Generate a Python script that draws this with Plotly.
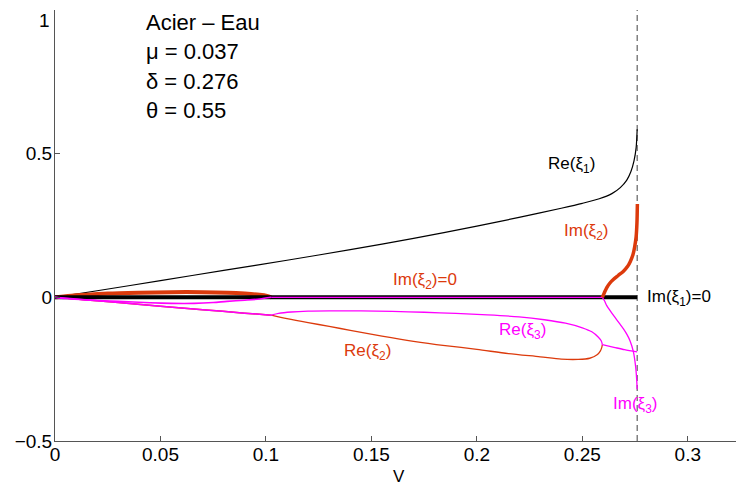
import plotly.graph_objects as go

# ---------------- data ----------------
delta = 0.276

# Re(xi1) (black thin)
re1_v = [0, 0.02, 0.05, 0.08, 0.11, 0.14, 0.17, 0.2, 0.22, 0.24, 0.25, 0.258, 0.264, 0.268, 0.271, 0.273, 0.2745, 0.2755, 0.276]
re1 = [0, 0.023, 0.058, 0.094, 0.129, 0.166, 0.205, 0.248, 0.278, 0.31, 0.327, 0.343, 0.361, 0.382, 0.407, 0.437, 0.475, 0.52, 0.585]

# Im(xi1) = 0 (black thick)
im1_v = [0, 0.276]
im1 = [0, 0]

# Im(xi2) first bump (red thick)
im2a_v = [0, 0.005, 0.013, 0.025, 0.04, 0.055, 0.07, 0.082, 0.09, 0.097, 0.1005, 0.1025]
im2a = [0, 0.004, 0.008, 0.013, 0.016, 0.018, 0.018, 0.016, 0.013, 0.009, 0.005, 0]
# Im(xi2) second branch (red thick)
im2b_v = [0.2595, 0.2605, 0.2616, 0.263, 0.2647, 0.267, 0.2695, 0.2715, 0.2727, 0.274, 0.2748, 0.2755, 0.2759, 0.2761]
im2b = [0, 0.017, 0.034, 0.049, 0.062, 0.076, 0.091, 0.108, 0.124, 0.148, 0.175, 0.21, 0.26, 0.325]

# Im(xi3) (magenta)
im3a_v = [0, 0.005, 0.015, 0.03, 0.045, 0.055, 0.066, 0.075, 0.0815, 0.09, 0.097, 0.1025]
im3a = [0, -0.004, -0.009, -0.014, -0.019, -0.021, -0.021, -0.018, -0.014, -0.01, -0.006, 0]
im3z_v = [0.1025, 0.2595]
im3z = [0, 0]
im3b_v = [0.2595, 0.2605, 0.2616, 0.2635, 0.2655, 0.2675, 0.2695, 0.2712, 0.2726, 0.2742, 0.2753, 0.2758, 0.276]
im3b = [0, -0.012, -0.029, -0.05, -0.07, -0.09, -0.11, -0.13, -0.151, -0.189, -0.243, -0.29, -0.32]

# Common real part of xi2 / xi3 (complex pair)
rec_a_v = [0, 0.01, 0.02, 0.03, 0.05, 0.07, 0.09, 0.1025]
rec_a = [0, -0.006, -0.012, -0.018, -0.031, -0.043, -0.055, -0.062]
rec_b_v = [0.2595, 0.265, 0.27, 0.276]
rec_b = [-0.165, -0.174, -0.182, -0.19]

# Re(xi2) real branch (red thin)
re2_v = [0.1025, 0.11, 0.12, 0.13, 0.14, 0.155, 0.17, 0.185, 0.2, 0.215, 0.23, 0.24, 0.248, 0.2535, 0.257, 0.2585, 0.2592, 0.2595]
re2 = [-0.062, -0.074, -0.088, -0.101, -0.115, -0.135, -0.153, -0.168, -0.181, -0.196, -0.207, -0.215, -0.216, -0.212, -0.2, -0.187, -0.175, -0.165]

# Re(xi3) real branch (magenta thin)
re3_v = [0.1025, 0.106, 0.112, 0.12, 0.13, 0.145, 0.16, 0.175, 0.19, 0.205, 0.22, 0.232, 0.242, 0.25, 0.2545, 0.2575, 0.259, 0.2595]
re3 = [-0.062, -0.056, -0.051, -0.048, -0.047, -0.047, -0.049, -0.052, -0.056, -0.061, -0.068, -0.078, -0.09, -0.106, -0.12, -0.138, -0.152, -0.165]

x_ticks = [0, 0.05, 0.1, 0.15, 0.2, 0.25, 0.3]
x_ticktext = ["0", "0.05", "0.1", "0.15", "0.2", "0.25", "0.3"]
y_ticks = [-0.5, 0, 0.5, 1]
y_ticktext = ["\u22120.5", "0", "0.5", "1"]

info_lines = ["Acier \u2013 Eau", "\u03bc = 0.037", "\u03b4 = 0.276", "\u03b8 = 0.55"]
info_y = [0.955, 0.856, 0.750, 0.650]

RED = "#dc3a0c"
MAG = "#ff00ff"
BLK = "#000000"
FONT = "Liberation Sans, Arial, Helvetica, sans-serif"

fig = go.Figure()


def add(x, y, color, width, dash=None, shape="spline"):
    fig.add_trace(go.Scatter(x=x, y=y, mode="lines",
                             line=dict(color=color, width=width, dash=dash, shape=shape, smoothing=0.8),
                             showlegend=False, hoverinfo="skip"))


add([delta, delta], [-0.5, 1], "#404040", 1, "6px,4px", "linear")
add(re1_v, re1, BLK, 1.2)
add(im2a_v, im2a, RED, 4)
add(rec_a_v, rec_a, RED, 1.5)
add(re2_v, re2, RED, 1.3)
add(im1_v, im1, BLK, 4, None, "linear")
add(im3z_v, im3z, MAG, 1.3, None, "linear")
add(im3a_v, im3a, MAG, 1.6)
add(rec_a_v, rec_a, MAG, 1.5)
add(re3_v, re3, MAG, 1.3)
add(rec_b_v, rec_b, MAG, 1.3)
add(im3b_v, im3b, MAG, 1.3)
add(im2b_v, im2b, RED, 3.5)

# info text
for t, yy in zip(info_lines, info_y):
    fig.add_annotation(x=0.0422, y=yy, text=t, showarrow=False, xanchor="left",
                       yanchor="middle", font=dict(family=FONT, size=22, color="black"))

labels = [
    ("Re(\u03be<sub>1</sub>)", 0.2447, 0.462, "center", BLK),
    ("Im(\u03be<sub>2</sub>)", 0.2518, 0.226, "center", RED),
    ("Im(\u03be<sub>2</sub>)=0", 0.1754, 0.058, "center", RED),
    ("Im(\u03be<sub>1</sub>)=0", 0.2798, -0.004, "left", BLK),
    ("Re(\u03be<sub>3</sub>)", 0.2214, -0.118, "center", MAG),
    ("Re(\u03be<sub>2</sub>)", 0.148, -0.19, "center", RED),
    ("Im(\u03be<sub>3</sub>)", 0.275, -0.375, "center", MAG),
]
for t, xx, yy, xa, c in labels:
    fig.add_annotation(x=xx, y=yy, text=t, showarrow=False, xanchor=xa,
                       yanchor="middle", font=dict(family=FONT, size=17, color=c))

# x-axis label
fig.add_annotation(x=0.5, xref="paper", y=-0.083, yref="paper", text="V", showarrow=False,
                   xanchor="center", yanchor="middle", font=dict(family=FONT, size=17, color="black"))

# top y tick label (would be clipped at the figure edge as a normal tick label)
fig.add_annotation(x=0, xref="paper", xshift=-3, y=1.0046, yref="paper", text=y_ticktext[-1],
                   showarrow=False, xanchor="right", yanchor="top",
                   font=dict(family=FONT, size=19, color="black"))

axis_common = dict(showgrid=False, zeroline=False, showline=True, linecolor="#555555",
                   linewidth=1, ticks="inside", ticklen=5, tickcolor="#555555",
                   tickfont=dict(family=FONT, size=19, color="black"), mirror=False,
                   automargin=False)

# page body has an 8px default margin -> figure is 736x480 so it fits the 744x488 window
fig.update_layout(
    width=736, height=480,
    margin=dict(l=47, r=2, t=2, b=47),
    paper_bgcolor="white", plot_bgcolor="white",
    xaxis=dict(range=[0, 0.3257], tickmode="array", tickvals=x_ticks, ticktext=x_ticktext,
               ticklabelstandoff=-4, **axis_common),
    yaxis=dict(range=[-0.5, 1], tickmode="array", tickvals=y_ticks,
               ticktext=y_ticktext[:-1] + [""], ticklabelstandoff=-2, **axis_common),
)

fig.write_html("out.html")
